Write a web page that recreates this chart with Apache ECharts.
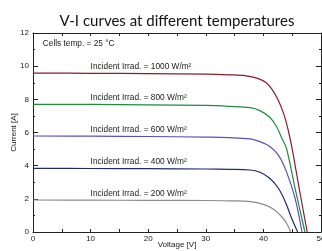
<!DOCTYPE html>
<html><head><meta charset="utf-8">
<script src="https://cdn.jsdelivr.net/npm/echarts@6/dist/echarts.min.js"></script>
<style>html,body{margin:0;padding:0;background:#fff}#c{width:322px;height:251px}</style>
</head><body><div id="c"></div>
<script>
const xTicks = [0, 10, 20, 30, 40, 50];
const yTicks = [0, 2, 4, 6, 8, 10, 12];
const irradiances = [1000, 800, 600, 400, 200];
const colors = ['#8c1c2e', '#1f8c3e', '#5a4fc0', '#1c2c6c', '#8a8a8a'];
const curve1000 = [[0,9.58],[10,9.57],[20,9.55],[30,9.52],[34,9.48],[37,9.42],[39,9.26],[40.5,9.0],[41.5,8.6],[42.5,8.0],[43.5,7.15],[44.3,6.15],[45,5.0],[46.2,2.65],[47.6,0]];
const curve800 = [[0,7.7],[10,7.69],[20,7.67],[30,7.63],[34,7.58],[37.7,7.5],[39.4,7.32],[41.1,6.92],[42.3,6.35],[43.2,5.65],[44,5.05],[45.5,2.63],[47.2,0]];
const curve600 = [[0,5.79],[10,5.78],[20,5.76],[30,5.72],[34,5.69],[37.7,5.61],[39.4,5.45],[41,5.18],[42.6,4.64],[44,3.64],[45.5,2.03],[46.7,0]];
const curve400 = [[0,3.84],[10,3.83],[20,3.82],[30,3.8],[34,3.78],[37.7,3.74],[39.4,3.6],[41.1,3.24],[42.6,2.64],[43.8,1.83],[44.9,0.83],[45.95,0]];
const curve200 = [[0,1.93],[10,1.92],[20,1.91],[30,1.9],[34,1.88],[37.7,1.83],[40,1.67],[41.7,1.39],[43.2,0.92],[44.1,0.48],[44.7,0]];
const curves = [curve1000, curve800, curve600, curve400, curve200];
const tempText = 'Cells temp. = 25 °C';
const labelX = 10;
const labelOffset = 0.37;

const chart = echarts.init(document.getElementById('c'), null, {renderer: 'canvas'});
const axisLine = {show: true, onZero: false, lineStyle: {color: '#222', width: 1}};
const small = {fontFamily: 'Liberation Sans', fontSize: 8, color: '#1a1a1a'};
const xBase = {type: 'value', min: xTicks[0], max: xTicks[xTicks.length-1], interval: xTicks[1]-xTicks[0],
  axisLine, splitLine: {show: false}, nameMoveOverlap: false,
  axisTick: {show: true, inside: true, length: 3, lineStyle: {color: '#222'}},
  minorTick: {show: true, splitNumber: 2, length: 3, lineStyle: {color: '#222'}}};
const yBase = {type: 'value', min: yTicks[0], max: yTicks[yTicks.length-1], interval: yTicks[1]-yTicks[0],
  axisLine, splitLine: {show: false}, nameMoveOverlap: false,
  axisTick: {show: true, inside: true, length: 5, lineStyle: {color: '#222'}},
  minorTick: {show: true, splitNumber: 2, length: 2, lineStyle: {color: '#222'}}};

const series = curves.map((c, i) => ({
  type: 'line', data: c, smooth: 0.35, showSymbol: false, symbol: 'none',
  lineStyle: {color: colors[i], width: 1.2}, xAxisIndex: 0, yAxisIndex: 0, silent: true,
  markPoint: {
    symbol: 'circle', symbolSize: 0,
    label: {show: true, position: 'right', distance: 0, formatter: 'Incident Irrad. = ' + irradiances[i] + ' W/m²', ...small, fontSize: 8.3},
    data: [{coord: [labelX, c[0][1] + labelOffset]}]
  }
}));
series.push({
  type: 'scatter', data: [], xAxisIndex: 0, yAxisIndex: 0,
  markPoint: {symbol: 'circle', symbolSize: 0,
    label: {show: true, position: 'right', distance: 0, formatter: tempText, ...small, fontSize: 8.3},
    data: [{coord: [1.7, 11.34]}]}
});

chart.setOption({
  animation: false,
  title: {text: 'V-I curves at different temperatures', left: 172, top: 9, textAlign: 'center',
    textStyle: {fontFamily: 'Lato', fontSize: 15, fontWeight: 'normal', color: '#111'}},
  grid: {left: 33, right: 1, top: 33, bottom: 19, containLabel: false, outerBoundsMode: 'none'},
  xAxis: [
    {...xBase, position: 'bottom', name: 'Voltage [V]', nameLocation: 'middle', nameGap: 9,
      nameTextStyle: {...small},
      axisLabel: {...small, margin: 3}},
    {...xBase, position: 'top', axisLabel: {show: false}}
  ],
  yAxis: [
    {...yBase, position: 'left', name: 'Current [A]', nameLocation: 'middle', nameGap: 15,
      nameTextStyle: {...small}, axisLabel: {...small, margin: 4}},
    {...yBase, position: 'right', axisLabel: {show: false}}
  ],
  series
});
</script></body></html>
